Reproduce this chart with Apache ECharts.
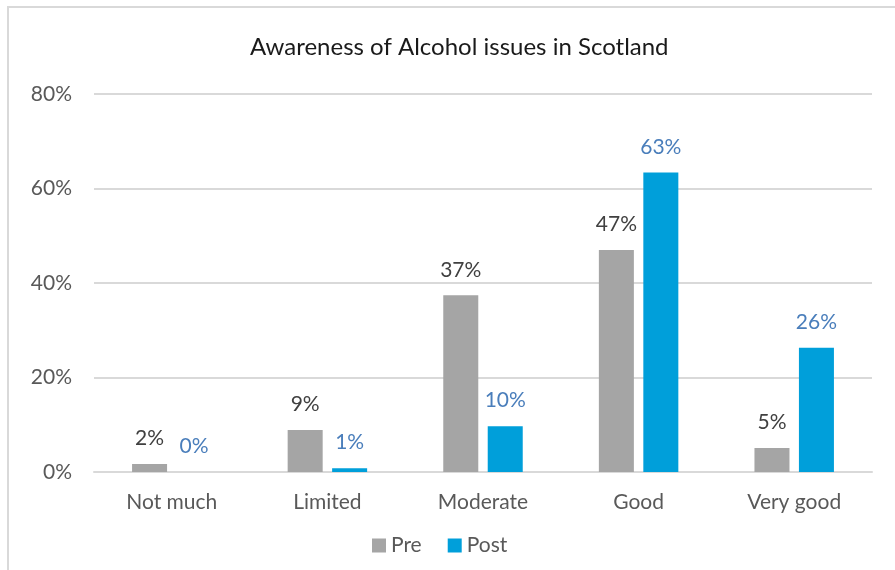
<!DOCTYPE html>
<html>
<head>
<meta charset="utf-8">
<script src="https://cdn.jsdelivr.net/npm/echarts@6/dist/echarts.min.js"></script>
<style>
html,body{margin:0;padding:0;background:#fff;}
#frame{position:absolute;left:7px;top:6px;width:900px;height:580px;border-left:2px solid #d9d9d9;border-top:2px solid #d9d9d9;box-sizing:border-box;}
#chart{position:absolute;left:0;top:0;width:895px;height:570px;}
</style>
</head>
<body>
<div id="frame"></div>
<div id="chart"></div>
<script>
var categories = ['Not much', 'Limited', 'Moderate', 'Good', 'Very good'];
var preValues = [1.7, 8.9, 37.4, 47.0, 5.1];
var postValues = [0.0, 0.8, 9.7, 63.4, 26.3];
var yTicks = [0, 20, 40, 60, 80];
var FONT = 'Lato, "Open Sans", sans-serif';

var chart = echarts.init(document.getElementById('chart'));
chart.setOption({
  backgroundColor: 'transparent',
  animation: false,
  title: {
    text: 'Awareness of Alcohol issues in Scotland',
    left: 245,
    top: 30,
    textStyle: { fontFamily: FONT, fontSize: 24, fontWeight: 'normal', color: '#1a1a1a' }
  },
  legend: {
    data: ['Pre', 'Post'],
    left: 367,
    top: 530,
    itemWidth: 14,
    itemHeight: 14,
    itemGap: 26,
    icon: 'rect',
    textStyle: { fontFamily: FONT, fontSize: 21, color: '#595959' }
  },
  grid: { left: 94, right: 23, top: 94, bottom: 98, containLabel: false },
  xAxis: {
    type: 'category',
    data: categories,
    axisLine: { lineStyle: { color: '#d9d9d9', width: 2 } },
    axisTick: { show: false },
    axisLabel: { fontFamily: FONT, fontSize: 21, color: '#595959', margin: 20 }
  },
  yAxis: {
    type: 'value',
    min: yTicks[0],
    max: yTicks[yTicks.length - 1],
    interval: 20,
    axisLine: { show: false },
    axisTick: { show: false },
    splitLine: { lineStyle: { color: '#d9d9d9', width: 2 } },
    axisLabel: { fontFamily: FONT, fontSize: 21, color: '#595959', margin: 22, formatter: function (v) { return v + '%'; } }
  },
  series: [
    {
      name: 'Pre',
      type: 'bar',
      data: preValues,
      barWidth: '22.5%',
      barGap: '27%',
      itemStyle: { color: '#a5a5a5' },
      label: {
        show: true, position: 'top', distance: 15,
        fontFamily: FONT, fontSize: 21, color: '#404040',
        formatter: function (p) { return Math.round(p.value) + '%'; }
      }
    },
    {
      name: 'Post',
      type: 'bar',
      data: postValues,
      barWidth: '22.5%',
      itemStyle: { color: '#009fda' },
      label: {
        show: true, position: 'top', distance: 15,
        fontFamily: FONT, fontSize: 21, color: '#4a7ebb',
        formatter: function (p) { return Math.round(p.value) + '%'; }
      }
    }
  ]
});
</script>
</body>
</html>
